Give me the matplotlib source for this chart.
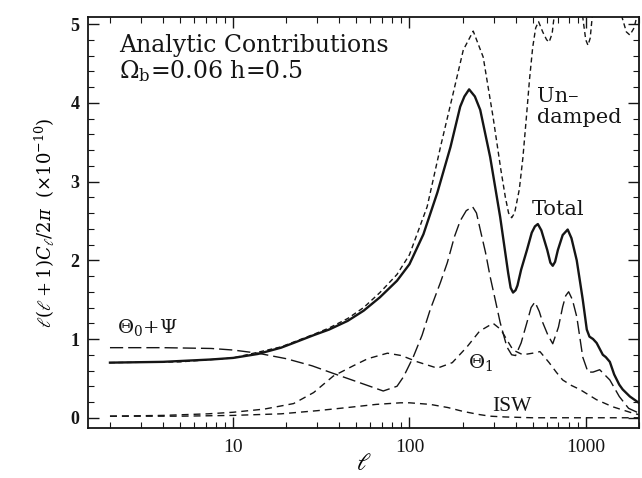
import matplotlib
matplotlib.use('Agg')
from matplotlib import pyplot as plt
from matplotlib.ticker import MultipleLocator, FixedLocator, NullFormatter

plt.rcParams['font.family'] = ['DejaVu Serif']
plt.rcParams['mathtext.fontset'] = 'dejavuserif'

# total spectrum (solid)
ell_total = [2, 4, 7.5, 10, 13.8, 18.7, 22, 28.7, 35, 44.6, 55, 68, 85, 100, 120, 144, 171,
             194, 205, 218, 235, 252, 287, 327, 363, 375, 387, 400, 410, 430, 464, 494, 515,
             535, 560, 605, 630, 650, 670, 695, 740, 790, 830, 889, 925, 962, 1014, 1050,
             1100, 1153, 1250, 1300, 1370, 1450, 1550, 1620, 1780, 2000]
total = [0.70, 0.71, 0.74, 0.76, 0.81, 0.89, 0.95, 1.05, 1.12, 1.23, 1.36, 1.53, 1.74, 1.95,
         2.33, 2.86, 3.44, 3.95, 4.08, 4.17, 4.08, 3.91, 3.31, 2.55, 1.84, 1.65, 1.59, 1.62,
         1.68, 1.88, 2.13, 2.35, 2.43, 2.46, 2.38, 2.13, 1.97, 1.93, 1.98, 2.13, 2.32, 2.39,
         2.28, 2.00, 1.75, 1.50, 1.12, 1.03, 1.00, 0.95, 0.80, 0.77, 0.71, 0.55, 0.42, 0.36,
         0.27, 0.19]

# undamped (short dashes)
ell_und = [2, 5, 10, 18.7, 28.7, 35, 44.6, 55, 68, 85, 100, 126, 150, 177, 202, 230, 262,
           298, 330, 350, 365, 380, 395, 420, 440, 460, 480, 500, 520, 540, 570, 600, 620,
           645, 670, 720, 800, 900, 960, 1000, 1030, 1060, 1100, 1250, 1450, 1600, 1700,
           1780, 1880, 2000]
undamped = [0.70, 0.71, 0.76, 0.90, 1.06, 1.14, 1.26, 1.40, 1.59, 1.82, 2.07, 2.68, 3.44,
            4.12, 4.67, 4.91, 4.58, 3.82, 3.15, 2.80, 2.60, 2.54, 2.60, 2.90, 3.30, 3.80,
            4.30, 4.70, 4.95, 5.03, 4.90, 4.80, 4.77, 4.88, 5.20, 5.80, 6.20, 5.60, 5.10,
            4.80, 4.73, 4.82, 5.20, 5.90, 5.60, 5.10, 4.90, 4.86, 4.95, 5.20]

# Theta_0 + Psi (long dashes)
ell_sw = [2, 4, 7.5, 10, 13.8, 20, 28, 37.3, 50, 71, 85, 92.5, 105, 118, 131, 150, 164, 180,
          194, 210, 228, 240, 252, 270, 287, 310, 327, 357, 380, 400, 430, 464, 490, 515,
          545, 570, 610, 650, 700, 740, 770, 800, 840, 890, 962, 1030, 1100, 1200, 1370,
          1550, 1750, 2000]
sw = [0.89, 0.89, 0.88, 0.86, 0.82, 0.75, 0.66, 0.56, 0.46, 0.34, 0.40, 0.52, 0.77, 1.05,
      1.37, 1.72, 1.97, 2.30, 2.50, 2.63, 2.68, 2.60, 2.39, 2.10, 1.79, 1.45, 1.21, 0.90,
      0.80, 0.79, 0.95, 1.21, 1.40, 1.47, 1.35, 1.21, 1.05, 0.94, 1.15, 1.41, 1.55, 1.60,
      1.50, 1.28, 0.77, 0.58, 0.58, 0.61, 0.48, 0.27, 0.12, 0.06]

# Theta_1 (medium dashes)
ell_dip = [2, 4, 7.2, 10, 15, 22, 28.6, 37, 48, 58, 75, 90, 111, 144, 175, 212, 250, 298,
           330, 357, 387, 440, 500, 550, 620, 680, 740, 830, 925, 1150, 1420, 1840, 2000]
dipole = [0.02, 0.03, 0.05, 0.07, 0.11, 0.18, 0.32, 0.53, 0.66, 0.75, 0.82, 0.79, 0.71,
          0.63, 0.70, 0.90, 1.10, 1.20, 1.12, 0.99, 0.86, 0.80, 0.82, 0.84, 0.70, 0.58,
          0.48, 0.41, 0.36, 0.23, 0.14, 0.06, 0.04]

# ISW (medium dashes)
ell_isw = [2, 5, 10, 18.7, 30, 44.6, 65, 89, 100, 131, 165, 202, 250, 287, 350, 500, 1000, 2000]
isw = [0.02, 0.02, 0.03, 0.05, 0.09, 0.13, 0.17, 0.19, 0.19, 0.17, 0.13, 0.08, 0.04, 0.02,
       0.01, 0.0, 0.0, 0.0]

ink = '#151515'

fig = plt.figure(figsize=(6.42, 4.78), dpi=100)
ax = fig.add_axes([0.137, 0.1046, 0.858, 0.860])

ax.plot(ell_und, undamped, color=ink, lw=1.0, dashes=(3.6, 2.4))
ax.plot(ell_sw, sw, color=ink, lw=1.0, dashes=(9.5, 3.6))
ax.plot(ell_dip, dipole, color=ink, lw=1.0, dashes=(5, 3.6))
ax.plot(ell_isw, isw, color=ink, lw=1.0, dashes=(5, 3.6))
ax.plot(ell_total, total, color=ink, lw=1.7)

ax.set_xscale('log')
ax.set_xlim(1.5, 2000)
ax.set_ylim(-0.13, 5.09)

ax.xaxis.set_major_locator(FixedLocator([10, 100, 1000]))
ax.set_xticklabels(['10', '100', '1000'], fontfamily='Liberation Serif', fontsize=14)
ax.xaxis.set_minor_formatter(NullFormatter())
ax.yaxis.set_major_locator(MultipleLocator(1))
ax.yaxis.set_minor_locator(MultipleLocator(0.2))
for lab in ax.get_yticklabels():
    lab.set_fontfamily('Liberation Serif')
    lab.set_fontsize(13)
    lab.set_fontweight('bold')

ax.tick_params(which='both', direction='in', top=True, right=True, colors=ink)
ax.tick_params(which='major', length=8, width=1.0, pad=6)
ax.tick_params(axis='x', which='major', pad=8)
ax.tick_params(which='minor', length=4, width=0.8)
for s in ax.spines.values():
    s.set_linewidth(1.3)
    s.set_color(ink)

ax.set_xlabel(r'$\ell$', fontsize=17, labelpad=-3)
ax.set_ylabel(r'$\ell(\ell+1)C_\ell/2\pi$  $(\times10^{-10})$', fontsize=13, labelpad=10)

ax.text(2.24, 4.64, 'Analytic Contributions', fontsize=17, color=ink, va='baseline')
ax.text(2.24, 4.31, r'$\Omega_{\rm b}$=0.06 h=0.5', fontsize=17, color=ink, va='baseline')
ax.text(528, 4.01, 'Un\u2013', fontsize=15, color=ink, va='baseline')
ax.text(528, 3.74, 'damped', fontsize=15, color=ink, va='baseline')
ax.text(495, 2.58, 'Total', fontsize=15, color=ink, va='baseline')
ax.text(215, 0.63, r'$\Theta_1$', fontsize=14, color=ink, va='baseline')
ax.text(294, 0.08, 'ISW', fontsize=15.5, color=ink, va='baseline', fontfamily='Liberation Serif')
ax.text(2.18, 1.08, r'$\Theta_0\!+\!\Psi$', fontsize=14, color=ink, va='baseline')

fig.savefig('out.png', dpi=100)
